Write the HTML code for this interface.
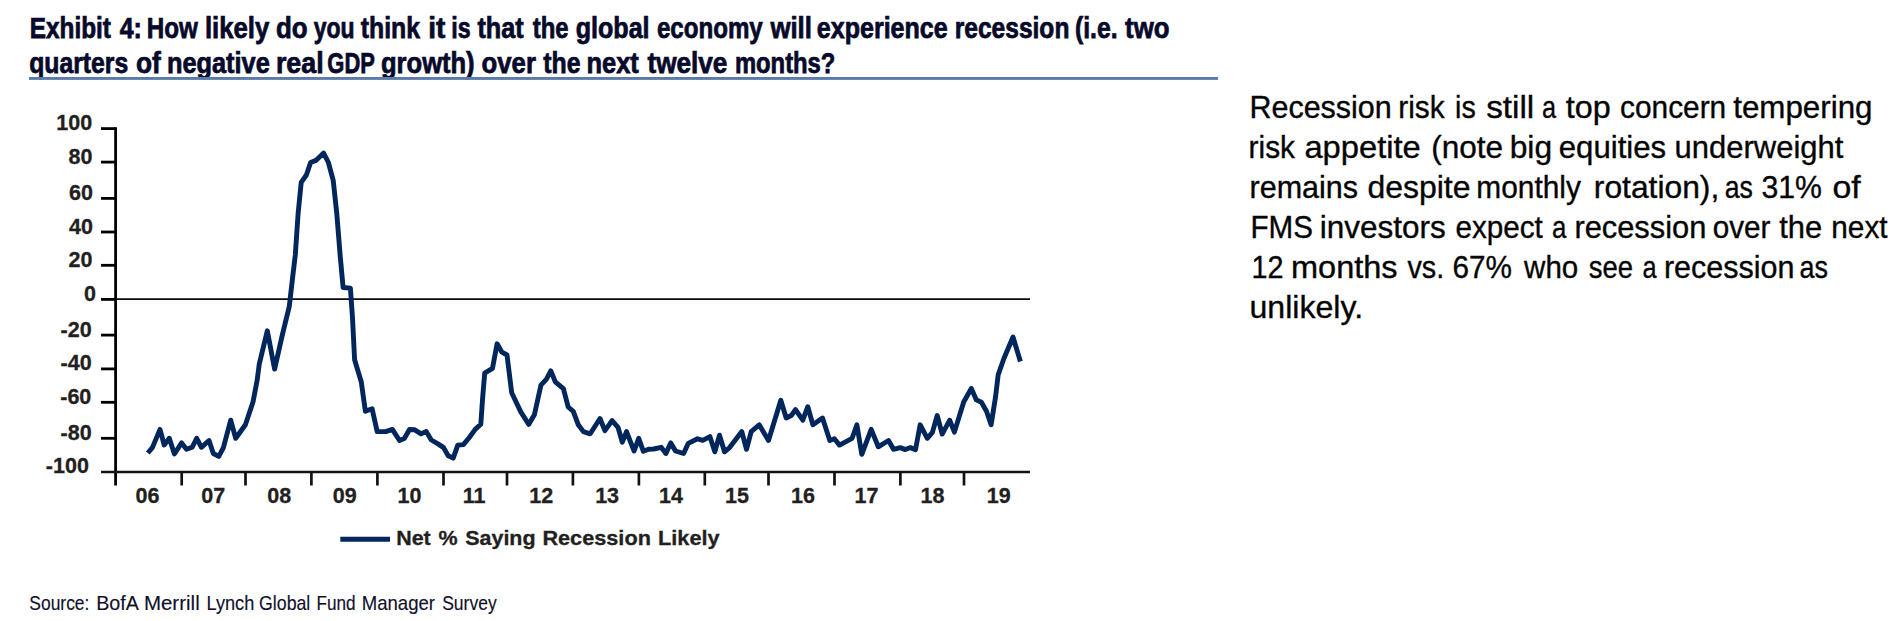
<!DOCTYPE html>
<html lang="en"><head><meta charset="utf-8"><title>Exhibit 4</title>
<style>
html,body{margin:0;padding:0;background:#fff;}
body{width:1894px;height:621px;overflow:hidden;font-family:"Liberation Sans",sans-serif;}
svg{display:block;}
</style></head><body>
<svg role="img" aria-label="Exhibit 4 chart: Net % Saying Recession Likely" width="1894" height="621" viewBox="0 0 1894 621">
<rect width="1894" height="621" fill="#fff"/>
<g id="exhibit-title" font-family="'Liberation Sans', sans-serif" font-weight="bold" font-size="29" fill="#070a2a" stroke="#070a2a" stroke-width="0.75">
<text y="37.5"><tspan x="29.7" textLength="81.3" lengthAdjust="spacingAndGlyphs">Exhibit</tspan> <tspan x="119.7" textLength="22.2" lengthAdjust="spacingAndGlyphs">4:</tspan> <tspan x="146.8" textLength="51.1" lengthAdjust="spacingAndGlyphs">How</tspan> <tspan x="204.9" textLength="64.4" lengthAdjust="spacingAndGlyphs">likely</tspan> <tspan x="275.9" textLength="31.7" lengthAdjust="spacingAndGlyphs">do</tspan> <tspan x="313.7" textLength="40.9" lengthAdjust="spacingAndGlyphs">you</tspan> <tspan x="360.8" textLength="59.3" lengthAdjust="spacingAndGlyphs">think</tspan> <tspan x="428.2" textLength="17.1" lengthAdjust="spacingAndGlyphs">it</tspan> <tspan x="451.3" textLength="19.4" lengthAdjust="spacingAndGlyphs">is</tspan> <tspan x="477.4" textLength="46.2" lengthAdjust="spacingAndGlyphs">that</tspan> <tspan x="532.8" textLength="35.8" lengthAdjust="spacingAndGlyphs">the</tspan> <tspan x="575.7" textLength="73.9" lengthAdjust="spacingAndGlyphs">global</tspan> <tspan x="656.9" textLength="105.9" lengthAdjust="spacingAndGlyphs">economy</tspan> <tspan x="770.4" textLength="41.5" lengthAdjust="spacingAndGlyphs">will</tspan> <tspan x="816.8" textLength="130.9" lengthAdjust="spacingAndGlyphs">experience</tspan> <tspan x="954.7" textLength="114.7" lengthAdjust="spacingAndGlyphs">recession</tspan> <tspan x="1074.9" textLength="42.7" lengthAdjust="spacingAndGlyphs">(i.e.</tspan> <tspan x="1125.1" textLength="44.4" lengthAdjust="spacingAndGlyphs">two</tspan></text>
<text y="73.2"><tspan x="29.2" textLength="99.0" lengthAdjust="spacingAndGlyphs">quarters</tspan> <tspan x="136.0" textLength="24.8" lengthAdjust="spacingAndGlyphs">of</tspan> <tspan x="166.9" textLength="102.9" lengthAdjust="spacingAndGlyphs">negative</tspan> <tspan x="275.9" textLength="47.8" lengthAdjust="spacingAndGlyphs">real</tspan> <tspan x="327.3" textLength="47.2" lengthAdjust="spacingAndGlyphs">GDP</tspan> <tspan x="381.0" textLength="93.6" lengthAdjust="spacingAndGlyphs">growth)</tspan> <tspan x="481.6" textLength="54.3" lengthAdjust="spacingAndGlyphs">over</tspan> <tspan x="543.3" textLength="37.2" lengthAdjust="spacingAndGlyphs">the</tspan> <tspan x="586.4" textLength="52.4" lengthAdjust="spacingAndGlyphs">next</tspan> <tspan x="647.5" textLength="79.9" lengthAdjust="spacingAndGlyphs">twelve</tspan> <tspan x="734.9" textLength="100.5" lengthAdjust="spacingAndGlyphs">months?</tspan></text>
</g>
<rect x="29" y="77" width="1189" height="2.9" fill="#5d7ba8"/>
<g id="axes" stroke="#000" stroke-width="2.8" fill="none">
<line x1="115.6" y1="127.2" x2="115.6" y2="485.5"/>
<line x1="101" y1="472.0" x2="1030" y2="472.0" stroke-width="2.35" stroke="#141112"/>
<line x1="101" y1="128.6" x2="115.6" y2="128.6"/>
<line x1="101" y1="162.1" x2="115.6" y2="162.1"/>
<line x1="101" y1="198.4" x2="115.6" y2="198.4"/>
<line x1="101" y1="232.0" x2="115.6" y2="232.0"/>
<line x1="101" y1="265.3" x2="115.6" y2="265.3"/>
<line x1="101" y1="299.4" x2="115.6" y2="299.4"/>
<line x1="101" y1="335.1" x2="115.6" y2="335.1"/>
<line x1="101" y1="368.9" x2="115.6" y2="368.9"/>
<line x1="101" y1="402.3" x2="115.6" y2="402.3"/>
<line x1="101" y1="438.3" x2="115.6" y2="438.3"/>
<line x1="181.7" y1="472.0" x2="181.7" y2="485.5" stroke-width="2.7" stroke="#141112"/>
<line x1="245.5" y1="472.0" x2="245.5" y2="485.5" stroke-width="2.7" stroke="#141112"/>
<line x1="311.4" y1="472.0" x2="311.4" y2="485.5" stroke-width="2.7" stroke="#141112"/>
<line x1="377.4" y1="472.0" x2="377.4" y2="485.5" stroke-width="2.7" stroke="#141112"/>
<line x1="443.5" y1="472.0" x2="443.5" y2="485.5" stroke-width="2.7" stroke="#141112"/>
<line x1="507.0" y1="472.0" x2="507.0" y2="485.5" stroke-width="2.7" stroke="#141112"/>
<line x1="572.9" y1="472.0" x2="572.9" y2="485.5" stroke-width="2.7" stroke="#141112"/>
<line x1="638.9" y1="472.0" x2="638.9" y2="485.5" stroke-width="2.7" stroke="#141112"/>
<line x1="704.8" y1="472.0" x2="704.8" y2="485.5" stroke-width="2.7" stroke="#141112"/>
<line x1="768.5" y1="472.0" x2="768.5" y2="485.5" stroke-width="2.7" stroke="#141112"/>
<line x1="834.5" y1="472.0" x2="834.5" y2="485.5" stroke-width="2.7" stroke="#141112"/>
<line x1="900.4" y1="472.0" x2="900.4" y2="485.5" stroke-width="2.7" stroke="#141112"/>
<line x1="964.0" y1="472.0" x2="964.0" y2="485.5" stroke-width="2.7" stroke="#141112"/>
</g>
<line x1="115.6" y1="299.1" x2="1030" y2="299.1" stroke="#0a0a0a" stroke-width="1.9"/>
<g id="axis-labels" font-family="'Liberation Sans', sans-serif" font-weight="bold" font-size="21.5" fill="#231f20" stroke="#231f20" stroke-width="0.3">
<text x="92.1" y="130.1" text-anchor="end">100</text>
<text x="92.4" y="163.6" text-anchor="end">80</text>
<text x="93.0" y="199.9" text-anchor="end">60</text>
<text x="93.0" y="233.5" text-anchor="end">40</text>
<text x="92.5" y="266.8" text-anchor="end">20</text>
<text x="95.9" y="300.9" text-anchor="end">0</text>
<text x="91.6" y="336.6" text-anchor="end">-20</text>
<text x="91.6" y="370.4" text-anchor="end">-40</text>
<text x="91.3" y="403.8" text-anchor="end">-60</text>
<text x="91.6" y="439.8" text-anchor="end">-80</text>
<text x="88.9" y="473.4" text-anchor="end">-100</text>
<text x="147.4" y="503.2" text-anchor="middle">06</text>
<text x="213.3" y="503.2" text-anchor="middle">07</text>
<text x="279.2" y="503.2" text-anchor="middle">08</text>
<text x="344.8" y="503.2" text-anchor="middle">09</text>
<text x="409.4" y="503.2" text-anchor="middle">10</text>
<text x="474.2" y="503.2" text-anchor="middle">11</text>
<text x="541.2" y="503.2" text-anchor="middle">12</text>
<text x="607.1" y="503.2" text-anchor="middle">13</text>
<text x="671.0" y="503.2" text-anchor="middle">14</text>
<text x="737.0" y="503.2" text-anchor="middle">15</text>
<text x="803.0" y="503.2" text-anchor="middle">16</text>
<text x="866.4" y="503.2" text-anchor="middle">17</text>
<text x="932.5" y="503.2" text-anchor="middle">18</text>
<text x="998.7" y="503.2" text-anchor="middle">19</text>
</g>
<path id="series-recession-likely" d="M147.8,453.0 L152.4,447.6 L160.0,429.4 L164.2,445.0 L169.3,438.3 L174.4,454.0 L181.6,442.9 L186.5,449.3 L192.1,447.3 L196.7,438.3 L201.4,447.3 L209.0,440.5 L213.3,453.5 L218.8,456.4 L223.4,447.6 L230.7,420.2 L235.7,438.3 L245.4,424.8 L253.0,402.0 L257.2,380.0 L259.3,363.9 L267.3,330.8 L274.6,369.1 L282.4,334.6 L289.3,306.3 L292.8,275.9 L295.3,255.0 L298.1,213.8 L301.2,182.4 L306.4,175.0 L310.6,162.5 L315.9,160.4 L323.6,153.0 L328.4,162.5 L333.2,180.3 L336.8,213.8 L340.3,257.0 L343.1,287.5 L350.4,288.1 L352.5,317.8 L354.6,359.7 L361.3,382.0 L365.4,411.3 L372.1,408.7 L377.2,431.6 L385.7,431.6 L392.4,429.4 L399.5,440.5 L404.3,438.5 L409.5,429.5 L414.4,429.7 L421.1,433.8 L426.2,431.6 L431.3,440.0 L438.0,443.9 L443.6,447.6 L448.2,455.7 L453.2,458.1 L457.8,445.1 L463.4,444.6 L469.3,437.5 L475.2,429.4 L480.8,424.3 L482.6,398.5 L484.7,373.1 L492.5,368.3 L497.1,343.8 L501.9,352.2 L507.0,355.0 L511.7,392.8 L520.9,412.1 L528.8,424.3 L534.4,414.7 L540.9,385.2 L546.3,379.3 L550.8,370.9 L555.3,381.8 L563.4,388.7 L568.2,407.0 L573.3,411.3 L578.3,424.8 L583.4,431.6 L590.2,433.8 L600.0,418.5 L604.9,430.7 L612.1,420.6 L618.0,427.3 L622.3,442.2 L626.5,431.6 L634.1,451.0 L638.7,438.3 L643.4,451.3 L648.5,449.3 L653.6,449.0 L661.2,447.3 L665.9,453.5 L670.8,442.9 L675.5,451.0 L683.6,453.5 L688.2,443.4 L697.5,438.8 L702.8,440.3 L709.9,436.6 L714.8,451.8 L719.5,435.2 L724.5,451.8 L729.6,447.6 L741.8,431.6 L746.5,449.3 L751.2,431.6 L759.2,424.8 L768.5,440.5 L780.8,400.3 L786.2,418.0 L791.3,415.5 L795.5,409.6 L802.8,420.2 L807.8,406.7 L812.9,424.8 L822.5,418.0 L829.8,440.5 L834.4,438.8 L839.5,445.1 L852.1,438.3 L856.9,424.8 L861.8,454.4 L871.2,429.4 L878.3,446.8 L888.5,440.5 L893.5,449.3 L900.3,447.6 L905.4,449.6 L910.4,447.6 L915.5,449.6 L920.2,424.8 L927.3,438.3 L932.4,432.4 L937.2,415.5 L942.2,434.1 L949.7,420.2 L954.4,432.1 L963.7,402.0 L971.3,388.5 L976.4,399.9 L981.4,402.3 L986.5,411.3 L991.1,424.8 L995.6,396.5 L998.2,374.7 L1004.0,358.3 L1013.0,337.0 L1020.4,361.5" fill="none" stroke="#00265c" stroke-width="4.9" stroke-linejoin="round" stroke-linecap="butt"/>
<line x1="340.3" y1="539.3" x2="390" y2="539.3" stroke="#00265c" stroke-width="5"/>
<g id="legend" font-family="'Liberation Sans', sans-serif" font-weight="bold" font-size="20.5" fill="#231f20" stroke="#231f20" stroke-width="0.3">
<text y="544.8"><tspan x="396.2" textLength="34.6" lengthAdjust="spacingAndGlyphs">Net</tspan> <tspan x="438.6" textLength="19.1" lengthAdjust="spacingAndGlyphs">%</tspan> <tspan x="465.2" textLength="70.4" lengthAdjust="spacingAndGlyphs">Saying</tspan> <tspan x="542.4" textLength="108.5" lengthAdjust="spacingAndGlyphs">Recession</tspan> <tspan x="658.1" textLength="61.4" lengthAdjust="spacingAndGlyphs">Likely</tspan></text>
</g>
<g id="source-note" font-family="'Liberation Sans', sans-serif" font-size="21" fill="#10102a" stroke="#10102a" stroke-width="0.15">
<text y="609.6"><tspan x="29.3" textLength="60.1" lengthAdjust="spacingAndGlyphs">Source:</tspan> <tspan x="96.2" textLength="41.6" lengthAdjust="spacingAndGlyphs">BofA</tspan> <tspan x="143.9" textLength="55.8" lengthAdjust="spacingAndGlyphs">Merrill</tspan> <tspan x="206.5" textLength="47.8" lengthAdjust="spacingAndGlyphs">Lynch</tspan> <tspan x="259.1" textLength="51.2" lengthAdjust="spacingAndGlyphs">Global</tspan> <tspan x="316.5" textLength="39.1" lengthAdjust="spacingAndGlyphs">Fund</tspan> <tspan x="361.7" textLength="73.3" lengthAdjust="spacingAndGlyphs">Manager</tspan> <tspan x="442.2" textLength="54.5" lengthAdjust="spacingAndGlyphs">Survey</tspan></text>
</g>
<g id="commentary" font-family="'Liberation Sans', sans-serif" font-size="30.5" fill="#050505" stroke="#050505" stroke-width="0.35">
<text y="117.8"><tspan x="1249.5" textLength="142.2" lengthAdjust="spacingAndGlyphs">Recession</tspan> <tspan x="1398.3" textLength="46.4" lengthAdjust="spacingAndGlyphs">risk</tspan> <tspan x="1455.1" textLength="20.7" lengthAdjust="spacingAndGlyphs">is</tspan> <tspan x="1486.2" textLength="48.0" lengthAdjust="spacingAndGlyphs">still</tspan> <tspan x="1542.1" textLength="14.1" lengthAdjust="spacingAndGlyphs">a</tspan> <tspan x="1565.8" textLength="44.9" lengthAdjust="spacingAndGlyphs">top</tspan> <tspan x="1620.0" textLength="106.2" lengthAdjust="spacingAndGlyphs">concern</tspan> <tspan x="1733.2" textLength="139.3" lengthAdjust="spacingAndGlyphs">tempering</tspan></text>
<text y="157.6"><tspan x="1248.6" textLength="46.4" lengthAdjust="spacingAndGlyphs">risk</tspan> <tspan x="1304.4" textLength="116.4" lengthAdjust="spacingAndGlyphs">appetite</tspan> <tspan x="1431.2" textLength="72.0" lengthAdjust="spacingAndGlyphs">(note</tspan> <tspan x="1509.7" textLength="42.4" lengthAdjust="spacingAndGlyphs">big</tspan> <tspan x="1558.8" textLength="107.4" lengthAdjust="spacingAndGlyphs">equities</tspan> <tspan x="1674.6" textLength="168.8" lengthAdjust="spacingAndGlyphs">underweight</tspan></text>
<text y="197.8"><tspan x="1249.5" textLength="108.6" lengthAdjust="spacingAndGlyphs">remains</tspan> <tspan x="1367.4" textLength="103.1" lengthAdjust="spacingAndGlyphs">despite</tspan> <tspan x="1476.3" textLength="104.6" lengthAdjust="spacingAndGlyphs">monthly</tspan> <tspan x="1593.8" textLength="125.5" lengthAdjust="spacingAndGlyphs">rotation),</tspan> <tspan x="1724.7" textLength="28.2" lengthAdjust="spacingAndGlyphs">as</tspan> <tspan x="1761.4" textLength="60.5" lengthAdjust="spacingAndGlyphs">31%</tspan> <tspan x="1832.5" textLength="28.2" lengthAdjust="spacingAndGlyphs">of</tspan></text>
<text y="237.6"><tspan x="1250.5" textLength="62.5" lengthAdjust="spacingAndGlyphs">FMS</tspan> <tspan x="1319.7" textLength="126.0" lengthAdjust="spacingAndGlyphs">investors</tspan> <tspan x="1455.5" textLength="87.3" lengthAdjust="spacingAndGlyphs">expect</tspan> <tspan x="1551.9" textLength="14.4" lengthAdjust="spacingAndGlyphs">a</tspan> <tspan x="1574.4" textLength="131.9" lengthAdjust="spacingAndGlyphs">recession</tspan> <tspan x="1712.7" textLength="57.8" lengthAdjust="spacingAndGlyphs">over</tspan> <tspan x="1779.2" textLength="43.0" lengthAdjust="spacingAndGlyphs">the</tspan> <tspan x="1831.3" textLength="56.3" lengthAdjust="spacingAndGlyphs">next</tspan></text>
<text y="277.8"><tspan x="1251.4" textLength="32.0" lengthAdjust="spacingAndGlyphs">12</tspan> <tspan x="1291.0" textLength="106.6" lengthAdjust="spacingAndGlyphs">months</tspan> <tspan x="1407.4" textLength="36.8" lengthAdjust="spacingAndGlyphs">vs.</tspan> <tspan x="1452.5" textLength="59.5" lengthAdjust="spacingAndGlyphs">67%</tspan> <tspan x="1524.1" textLength="54.2" lengthAdjust="spacingAndGlyphs">who</tspan> <tspan x="1588.8" textLength="44.3" lengthAdjust="spacingAndGlyphs">see</tspan> <tspan x="1642.4" textLength="14.1" lengthAdjust="spacingAndGlyphs">a</tspan> <tspan x="1663.9" textLength="130.6" lengthAdjust="spacingAndGlyphs">recession</tspan> <tspan x="1799.6" textLength="28.5" lengthAdjust="spacingAndGlyphs">as</tspan></text>
<text y="317.6"><tspan x="1249.5" textLength="113.6" lengthAdjust="spacingAndGlyphs">unlikely.</tspan></text>
</g>
</svg>
</body></html>
